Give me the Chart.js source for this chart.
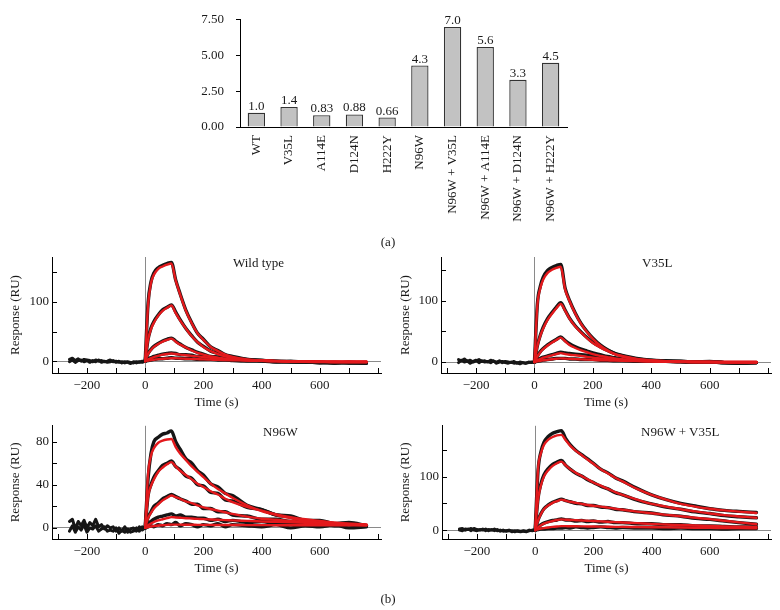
<!DOCTYPE html>
<html><head><meta charset="utf-8">
<script src="https://cdn.jsdelivr.net/npm/chart.js@4.4.1/dist/chart.umd.min.js"></script>
<style>
html,body{margin:0;padding:0;background:#fff;}
body{width:780px;height:610px;position:relative;overflow:hidden;font-family:'Liberation Serif',serif;color:#1a1a1a;}
canvas{position:absolute;}
.lbl{position:absolute;font-size:13px;white-space:nowrap;line-height:1;}
</style></head><body>
<canvas id="bar" width="780" height="230" style="left:0px;top:0px"></canvas>
<canvas id="p1" width="390" height="165" style="left:0px;top:245px"></canvas>
<canvas id="p2" width="390" height="165" style="left:390px;top:245px"></canvas>
<canvas id="p3" width="390" height="161" style="left:0px;top:415px"></canvas>
<canvas id="p4" width="390" height="161" style="left:390px;top:415px"></canvas>
<div class="lbl" style="left:378px;top:235px;width:20px;text-align:center">(a)</div>
<div class="lbl" style="left:378px;top:592px;width:20px;text-align:center">(b)</div>
<div class="lbl" style="left:233px;top:256px">Wild type</div>
<div class="lbl" style="left:642px;top:256px">V35L</div>
<div class="lbl" style="left:263px;top:425px">N96W</div>
<div class="lbl" style="left:641px;top:425px">N96W + V35L</div>
<script>
// ---------- (a) bar chart data ----------
const categories = ['WT','V35L','A114E','D124N','H222Y','N96W','N96W + V35L','N96W + A114E','N96W + D124N','N96W + H222Y'];
const ratios = [1.0, 1.4, 0.83, 0.88, 0.66, 4.3, 7.0, 5.6, 3.3, 4.5];
const valueLabels = ['1.0','1.4','0.83','0.88','0.66','4.3','7.0','5.6','3.3','4.5'];
const barYTicks = [0, 2.5, 5, 7.5];

// ---------- (b) sensorgram data ----------
const T  = [0,10,20,30,45,60,75,90,105,120,140,160,180,200,225,250,275,300,350,400,450,500,550,600,650,700,760];
const TB = [-260,-250,-240,-230,-220,-210,-200,-190,-180,-170,-160,-150,-140,-130,-120,-110,-100,-90,-80,-70,-60,-50,-40,-30,-20,-10,0];
const xTickLabels = [-200, 0, 200, 400, 600];

// Wild type
const wtFit1 = [0,95,132,146,156,160,163,165,136,113,85,64,47,36,24,17,11,7,3,1,0,-1,-1,-1.5,-2,-2,-2];
const wtFit2 = [0,36,54,65,77,85,90,94,81,69,55,42,32,24,17,12,8,5,2,1,0,-0.5,-1,-1,-1.5,-1.5,-1.5];
const wtFit3 = [0,12,19,24,29,33,36,38,33,28,23,18,14,11,8,6,4,3,1.5,0.5,0,-0.5,-0.5,-1,-1,-1,-1];
const wtFit4 = [0,3,5,7,9,11,12,13,12,11,10,9,8,7,5.5,4.5,3.5,3,2,1,0.5,0,-0.5,-0.5,-1,-1,-1];
const wtFit5 = [0,1,2,2.5,3.5,4,4.5,5,4.8,4.5,4.2,3.8,3.4,3,2.6,2.2,1.9,1.6,1,0.5,0,-0.3,-0.5,-0.7,-0.8,-1,-1];
const wtObs1 = [0,98,134,149,158,162,165,167,137,114,86,65,47,37,24,18,11,8,3,1,0,-1,-1,-3,-2,-3,-3];
const wtObs2 = [0,37,56,67,78,87,91,95,83,70,55,43,32,25,17,13,8,6,3,1,-1,0,-2,-2,-3,-2,-3];
const wtObs3 = [0,13,20,25,30,34,37,39,34,29,23,19,15,12,8,7,4,4,1,1,-1,-1,-2,-2,-3,-2,-3];
const wtObs4 = [0,4,6,8,10,12,13,14,13,11,11,10,8,8,6,5,4,3,1,1,0,-1,-1,-2,-2,-3,-2];
const wtObs5 = [0,1,2,3,4,4,5,6,5,5,4,4,3,3,3,2,2,1,0,0,-1,-1,-2,-2,-3,-2,-3];
const wtBaseA = [3,5,1,4,0,3,2,1,-1,2,0,1,-1,0,2,-1,0,-2,-1,-3,-1,-2,-3,-1,-2,0,0];
const wtBaseB = [-1,2,-2,1,2,-1,1,-2,1,-1,2,-2,0,-2,-1,1,-2,0,-3,-1,-2,-4,-1,-3,-1,-2,0];

// V35L
const v35Fit1 = [0,93,121,135,146,151,154,156,119,100,79,62,49,38,27,19,13,9,4.5,2,1,0.5,0,0,-0.5,-1,-1];
const v35Fit2 = [0,26,43,55,69,79,88,95,84,71,58,48,39,31,24,18,13,10,5,3,1.5,1,0.5,0,-0.5,-0.5,-0.5];
const v35Fit3 = [0,9,16,21,27,32,36,40,34,28,23,19,16,13,10,8,6,4.5,2.5,1.5,1,0.5,0,0,0,0,0];
const v35Fit4 = [0,3,5,7,9,11,13,14.5,13,12,11,10,8.5,7,6,5,4,3,2,1,0.5,0,0,0,0,0,0];
const v35Fit5 = [0,1,2,2.8,3.8,4.6,5.3,6,5.6,5.2,4.8,4.3,3.9,3.5,3,2.6,2.2,1.9,1.4,1,0.6,0.3,0,0,0,0,0];
const v35Obs1 = [0,95,124,139,150,155,158,160,121,101,80,63,50,39,28,20,14,10,5,3,1,1,0,1,-1,-2,-1];
const v35Obs2 = [0,27,44,57,71,81,90,97,85,72,59,49,40,32,25,19,14,11,6,3,2,1,0,0,-1,-1,-1];
const v35Obs3 = [0,10,17,22,28,33,37,41,35,30,25,21,18,15,12,9,7,5,3,2,1,1,0,0,-1,-1,-1];
const v35Obs4 = [0,4,6,8,10,12,14,16,15,14,13,12,11,10,9,7,6,5,3,2,1,1,0,0,-1,-2,-1];
const v35Obs5 = [0,1,2,3,4,5,6,6,6,5,5,4,4,4,3,3,2,2,1,1,1,0,0,0,-1,-1,-1];
const v35BaseA = [4,2,5,1,3,0,2,4,1,2,0,3,1,0,2,-1,1,0,-1,1,-2,0,-1,-2,0,-1,0];
const v35BaseB = [-1,3,0,2,-2,1,3,-1,2,0,1,-1,2,-2,0,1,-1,-2,0,-2,-1,-3,-1,-2,-1,0,0];

// N96W
const n96Fit1 = [0,50,67,74,79,81,82,82.5,75,69,63,57,52,47,41,36,32,28,21,15.5,12,9,6.5,5,4,3,2.5];
const n96Fit2 = [0,29,39,45,52,56,59,61,57,53,49,45,41,38,34,31,27,24,19.5,16,12.5,10,8,6.5,5,4,3];
const n96Fit3 = [0,9,14,18,22,25.5,28,30,28.5,27,24.5,23,21,19,17.5,16,14.5,13,10.5,8.5,7.5,6.5,5.5,4.5,3.8,3.2,2.6];
const n96Fit4 = [0,2.5,4,5.5,7,8,9,10,9.7,9.4,9,8.7,8.4,8.1,7.8,7.5,7.2,7,6.5,6,5.6,5.2,4.8,4.4,4,3.6,3.2];
const n96Fit5 = [0,0.8,1.3,1.7,2.2,2.5,2.8,3,3,3,2.9,2.9,2.8,2.8,2.8,2.7,2.7,2.7,2.6,2.6,2.5,2.5,2.4,2.4,2.4,2.3,2.3];
const n96Obs1 = [0,46,69,80,84,87,88,90,80,73,64,60,53,49,41,38,32,30,21,17,12,10,6,6,3,4,2];
const n96Obs2 = [0,30,40,47,53,58,60,62,57,54,48,46,40,39,33,32,26,25,19,17,12,11,7,7,4,5,2];
const n96Obs3 = [0,10,15,20,23,27,29,31,29,27,25,22,22,18,18,15,15,12,11,8,8,6,6,4,4,3,2];
const n96Obs4 = [0,4,6,8,10,11,12,13,11,12,10,10,9,9,7,8,6,7,5,6,4,5,3,4,2,3,2];
const n96Obs5 = [0,1,2,1,3,2,4,3,5,2,4,3,1,3,2,4,1,3,2,1,3,0,2,1,3,0,1];
const n96BaseA = [6,8,-1,6,2,7,0,5,2,8,1,3,-1,2,0,1,-3,0,-3,1,-4,-1,0,-3,1,-2,0];
const n96BaseB = [-3,2,-4,1,-2,3,-4,0,-1,2,-3,-1,1,-3,-2,-3,0,-5,-2,-4,-1,-4,-3,0,-3,1,0];

// N96W + V35L
const dblFit1 = [0,115,144,159,169,174,177,178,168,158,148,140,132,124,114,106,98,91,77,66,57,49,44,40,37,34.5,32];
const dblFit2 = [0,58,84,100,112,120,125,128,121,114,107,101,95,89,83,77,71,66,57,49,44,39,35,31,28,25.5,23];
const dblFit3 = [0,18,30,39,46,51,54,57,55,53,51,49,47,45.5,44,42,40,38,34.5,31.5,28.5,26,23,20.5,17.5,14.5,11];
const dblFit4 = [0,5,9,12,15,17,19,20,19.5,19,18.5,18,17.5,17,16.3,15.6,15,14.3,13,11.5,10.5,9.5,8.7,7.8,7,6.5,6];
const dblFit5 = [0,1.5,2.8,3.8,5,6,6.8,7.5,7.4,7.3,7.2,7,6.8,6.7,6.5,6.3,6.1,6,5.7,5.4,5.1,4.8,4.5,4.2,4,3.7,3.5];
const dblObs1 = [0,112,147,164,175,181,184,186,171,160,149,141,133,125,114,107,98,92,78,66,57,50,45,40,37,35,33];
const dblObs2 = [0,60,87,103,115,123,127,130,121,114,106,101,94,89,82,77,70,66,56,49,43,39,34,31,27,25,23];
const dblObs3 = [0,19,31,40,47,52,55,58,55,53,50,49,46,46,43,42,39,38,34,32,28,26,22,20,17,14,11];
const dblObs4 = [0,6,10,13,16,18,19,21,19,19,17,18,16,17,15,16,14,14,12,12,10,10,8,8,7,6,6];
const dblObs5 = [0,1,2,2,3,3,4,4,5,4,6,5,4,5,6,5,4,5,4,4,3,4,3,3,2,3,3];
const dblBaseA = [2,3,0,2,-1,3,1,0,2,-1,1,0,2,-1,0,-2,-1,0,-3,-1,-2,-3,-1,-2,-1,0,0];
const dblBaseB = [0,-1,2,1,3,0,-1,1,0,2,-1,1,-1,1,-2,0,-2,-1,-1,-3,-1,-2,-2,-3,0,-1,0];

const FONT = "'Liberation Serif', 'Times New Roman', serif";
const TXT = '#1a1a1a';
const RED = '#e3191c';
const BLK = '#161616';

// ---------- bar chart ----------
const barValueLabels = {
  id: 'barValueLabels',
  afterDatasetsDraw(chart) {
    const ctx = chart.ctx;
    const meta = chart.getDatasetMeta(0);
    ctx.save();
    ctx.font = "13px " + FONT;
    ctx.fillStyle = TXT;
    ctx.textAlign = 'center';
    ctx.textBaseline = 'alphabetic';
    meta.data.forEach((bar, i) => ctx.fillText(valueLabels[i], bar.x, bar.y - 3));
    ctx.restore();
  }
};

new Chart(document.getElementById('bar'), {
  type: 'bar',
  data: { labels: categories, datasets: [{ data: ratios, backgroundColor: '#c2c2c2', borderColor: '#333', borderWidth: 1.3, barPercentage: 0.53, categoryPercentage: 1 }] },
  options: {
    responsive: false, animation: false, events: [],
    layout: { padding: { top: 15, right: 213, left: 0, bottom: 0 } },
    plugins: { legend: { display: false }, tooltip: { enabled: false } },
    scales: {
      x: {
        grid: { display: false },
        border: { display: true, color: '#000', width: 1 },
        ticks: { minRotation: 90, maxRotation: 90, autoSkip: false, padding: 0, color: TXT, font: { family: FONT, size: 13 } },
        afterFit: s => { s.height = 103; }
      },
      y: {
        min: 0, max: 7.5,
        afterBuildTicks: s => { s.ticks = barYTicks.map(v => ({ value: v })); },
        ticks: { callback: v => Number(v).toFixed(2), padding: 12, color: TXT, font: { family: FONT, size: 13 } },
        grid: { display: true, drawOnChartArea: false, drawTicks: true, tickLength: 4, tickColor: '#000' },
        border: { display: true, color: '#000', width: 1 },
        afterFit: s => { s.width = 240; }
      }
    }
  },
  plugins: [barValueLabels]
});

// ---------- sensorgrams ----------
const innerTicks = {
  id: 'innerTicks',
  afterDraw(chart) {
    const { ctx, chartArea: a, scales: { x, y } } = chart;
    ctx.save();
    ctx.strokeStyle = '#000';
    ctx.lineWidth = 1;
    ctx.beginPath();
    x.ticks.forEach(t => { const px = Math.round(x.getPixelForValue(t.value)) + 0.5; ctx.moveTo(px, a.bottom); ctx.lineTo(px, a.bottom - 5); });
    y.ticks.forEach(t => { const py = Math.round(y.getPixelForValue(t.value)) + 0.5; ctx.moveTo(a.left, py); ctx.lineTo(a.left + 5, py); });
    ctx.stroke();
    ctx.restore();
  }
};

function fmt(v) { return v < 0 ? '\u2212' + Math.abs(v) : String(v); }
function pts(xs, ys) { return xs.map((t, i) => ({ x: t, y: ys[i] })); }

function panel(id, fits, obs, bases, yMin, yMax, yStep, yLabels, yW, padTop, xH) {
  const ds = [];
  bases.forEach(b => ds.push({ data: pts(TB, b), borderColor: BLK, borderWidth: 3, tension: 0, order: 2 }));
  obs.forEach(o => ds.push({ data: pts(T, o), borderColor: BLK, borderWidth: 3.4, cubicInterpolationMode: 'monotone', order: 1 }));
  fits.forEach(f => ds.push({ data: pts(T, f), borderColor: RED, borderWidth: 2.4, cubicInterpolationMode: 'monotone', order: 0 }));
  new Chart(document.getElementById(id), {
    type: 'line',
    data: { datasets: ds },
    options: {
      responsive: false, animation: false, events: [],
      layout: { padding: { top: padTop, right: 9, left: 0, bottom: 0 } },
      plugins: { legend: { display: false }, tooltip: { enabled: false } },
      elements: { point: { radius: 0 }, line: { borderCapStyle: 'round', borderJoinStyle: 'round' } },
      scales: {
        x: {
          type: 'linear', min: -320, max: 810,
          border: { display: true, color: '#000', width: 1 },
          grid: { display: true, drawTicks: false, lineWidth: 1, color: c => (c.tick && c.tick.value === 0) ? '#8a8a8a' : 'rgba(0,0,0,0)' },
          ticks: { stepSize: 100, includeBounds: false, autoSkip: false, maxRotation: 0, padding: 5, color: TXT, font: { family: FONT, size: 13 },
                   callback: v => xTickLabels.includes(v) ? fmt(v) : '' },
          title: { display: true, text: 'Time (s)', color: TXT, font: { family: FONT, size: 13 }, padding: { top: 0, bottom: 0 } },
          afterFit: s => { s.height = xH; }
        },
        y: {
          type: 'linear', min: yMin, max: yMax,
          border: { display: true, color: '#000', width: 1 },
          grid: { display: true, drawTicks: false, lineWidth: 1, color: c => (c.tick && c.tick.value === 0) ? '#8a8a8a' : 'rgba(0,0,0,0)' },
          ticks: { stepSize: yStep, includeBounds: false, autoSkip: false, padding: 3, color: TXT, font: { family: FONT, size: 13 },
                   callback: v => yLabels.includes(v) ? fmt(v) : '' },
          title: { display: true, text: 'Response (RU)', color: TXT, font: { family: FONT, size: 13 }, padding: { top: 8, bottom: 0 } },
          afterFit: s => { s.width = yW; }
        }
      }
    },
    plugins: [innerTicks]
  });
}

panel('p1', [wtFit1, wtFit2, wtFit3, wtFit4, wtFit5], [wtObs1, wtObs2, wtObs3, wtObs4, wtObs5], [wtBaseA, wtBaseB], -20, 176, 50, [0, 100], 52, 12, 37);
panel('p2', [v35Fit1, v35Fit2, v35Fit3, v35Fit4, v35Fit5], [v35Obs1, v35Obs2, v35Obs3, v35Obs4, v35Obs5], [v35BaseA, v35BaseB], -18, 172, 50, [0, 100], 51, 12, 37);
panel('p3', [n96Fit1, n96Fit2, n96Fit3, n96Fit4, n96Fit5], [n96Obs1, n96Obs2, n96Obs3, n96Obs4, n96Obs5], [n96BaseA, n96BaseB], -10.3, 94.7, 20, [0, 40, 80], 52, 9, 37);
panel('p4', [dblFit1, dblFit2, dblFit3, dblFit4, dblFit5], [dblObs1, dblObs2, dblObs3, dblObs4, dblObs5], [dblBaseA, dblBaseB], -16.6, 195, 50, [0, 100], 52, 9, 37);
</script>
</body></html>
